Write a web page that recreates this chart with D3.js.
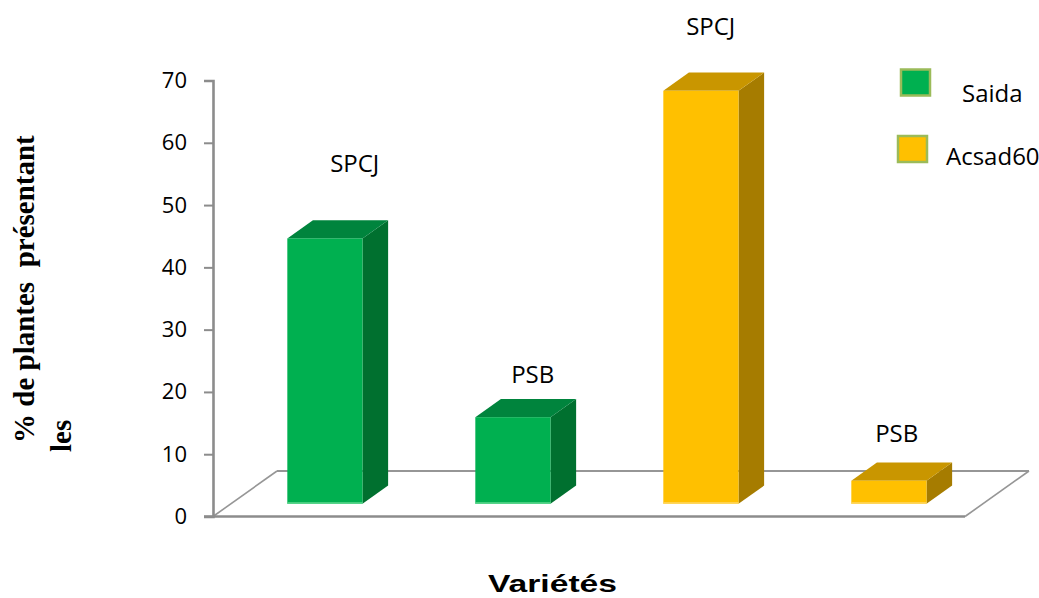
<!DOCTYPE html>
<html>
<head>
<meta charset="utf-8">
<script src="https://cdn.jsdelivr.net/npm/d3@7"></script>
<style>
  html, body { margin: 0; padding: 0; background: #ffffff; }
  svg { display: block; }
</style>
</head>
<body>
<svg id="chart" width="1039" height="598"></svg>
<script>
// Bars: one per variety / symptom pair
const varieties = ["Saida", "Saida", "Acsad60", "Acsad60"];
const symptoms = ["SPCJ", "PSB", "SPCJ", "PSB"];
const percentages = [42.6, 13.9, 66.3, 3.7];
const yTicks = [0, 10, 20, 30, 40, 50, 60, 70];
const seriesNames = ["Saida", "Acsad60"];

// Layout (pixels)
const floorLeft = 213, floorRight = 965;
const DX = 64, DY = -45.5;          // oblique depth vector of the floor
const t0 = 0.28, t1 = 0.68;         // bar front/back depth fractions
const labelNudgeX = [17, 7, -3, -5];
const labelLift = [66, 34, 56, 39];

const palette = {
  Saida:   { front: "#00b050", top: "#00843d", side: "#00702f", edge: "#5fd88f" },
  Acsad60: { front: "#ffc000", top: "#c99600", side: "#a67c00", edge: "#ffd966" }
};

const svg = d3.select("#chart");

const y = d3.scaleLinear().domain([0, 70]).range([516.5, 80.5]);
const x = d3.scaleBand().domain(d3.range(percentages.length))
  .range([floorLeft, floorRight]).paddingInner(0).paddingOuter(0);
const barW = x.bandwidth() * 0.4;

// project a front-plane point (px, value) back by depth fraction t
const P = (px, v, t) => [px + t * DX, y(v) + t * DY];
const poly = pts => pts.map(p => p.join(",")).join(" ");

// Floor
const floor = svg.append("g").attr("stroke", "#969696").attr("fill", "none");
floor.append("line")
  .attr("x1", P(floorLeft, 0, 1)[0]).attr("y1", P(floorLeft, 0, 1)[1])
  .attr("x2", P(floorRight, 0, 1)[0]).attr("y2", P(floorRight, 0, 1)[1])
  .attr("stroke-width", 2.2);
floor.append("line")
  .attr("x1", floorLeft).attr("y1", y(0))
  .attr("x2", P(floorLeft, 0, 1)[0]).attr("y2", P(floorLeft, 0, 1)[1])
  .attr("stroke-width", 1.6);
floor.append("line")
  .attr("x1", floorRight).attr("y1", y(0))
  .attr("x2", P(floorRight, 0, 1)[0]).attr("y2", P(floorRight, 0, 1)[1])
  .attr("stroke-width", 1.6);
floor.append("line")
  .attr("x1", floorLeft - 9).attr("y1", y(0))
  .attr("x2", floorRight).attr("y2", y(0))
  .attr("stroke", "#8c8c8c").attr("stroke-width", 2.6);

// Y axis
const axis = d3.axisLeft(y).tickValues(yTicks).tickSize(9).tickPadding(17);
const gAxis = svg.append("g").attr("transform", `translate(${floorLeft},0)`).call(axis);
gAxis.select(".domain").attr("stroke", "#8c8c8c").attr("stroke-width", 2.6);
gAxis.selectAll(".tick line").attr("stroke", "#8c8c8c").attr("stroke-width", 2);
gAxis.selectAll(".tick text")
  .attr("font-family", "'Open Sans', sans-serif")
  .attr("font-size", 22).attr("fill", "#000");

// Bars
const bars = svg.append("g");
percentages.forEach((v, i) => {
  const c = palette[varieties[i]];
  const xl = x(i) + (x.bandwidth() - barW) / 2;
  const xr = xl + barW;
  const g = bars.append("g");
  // side face
  g.append("polygon")
    .attr("points", poly([P(xr, 0, t0), P(xr, v, t0), P(xr, v, t1), P(xr, 0, t1)]))
    .attr("fill", c.side);
  // top face
  g.append("polygon")
    .attr("points", poly([P(xl, v, t0), P(xr, v, t0), P(xr, v, t1), P(xl, v, t1)]))
    .attr("fill", c.top);
  // front face
  const a = P(xl, v, t0), b = P(xr, 0, t0);
  g.append("rect")
    .attr("x", a[0]).attr("y", a[1])
    .attr("width", b[0] - a[0]).attr("height", b[1] - a[1])
    .attr("fill", c.front);
  g.append("line")
    .attr("x1", a[0]).attr("y1", b[1] - 0.8)
    .attr("x2", b[0]).attr("y2", b[1] - 0.8)
    .attr("stroke", c.edge).attr("stroke-width", 1.6);

  // symptom label above the bar
  const mid = P((xl + xr) / 2, v, (t0 + t1) / 2);
  svg.append("text")
    .attr("x", mid[0] + labelNudgeX[i])
    .attr("y", a[1] - labelLift[i])
    .attr("text-anchor", "middle")
    .attr("font-family", "'Open Sans', sans-serif")
    .attr("font-size", 24).attr("fill", "#000")
    .text(symptoms[i]);
});

// Legend
const legend = svg.append("g");
const legendRows = [
  { sx: 901, sy: 69.5, tx: 962, ty: 101.5 },
  { sx: 898, sy: 136, tx: 946, ty: 165 }
];
seriesNames.forEach((name, k) => {
  const r = legendRows[k];
  legend.append("rect")
    .attr("x", r.sx).attr("y", r.sy).attr("width", 29).attr("height", 26)
    .attr("fill", palette[name].front)
    .attr("stroke", "#9bbb59").attr("stroke-width", 2.5);
  legend.append("text")
    .attr("x", r.tx).attr("y", r.ty)
    .attr("font-family", "'Open Sans', sans-serif")
    .attr("font-size", 24).attr("fill", "#000")
    .text(name);
});

// Axis titles
const yTitle = svg.append("g")
  .attr("font-family", "'Liberation Serif', 'Times New Roman', serif")
  .attr("font-weight", "bold").attr("font-size", 29).attr("fill", "#000");
yTitle.append("text")
  .attr("transform", "translate(34,443) rotate(-90)")
  .attr("xml:space", "preserve")
  .style("white-space", "pre")
  .text("% de plantes  présentant");
yTitle.append("text")
  .attr("transform", "translate(71,452) rotate(-90)")
  .text("les");

svg.append("text")
  .attr("x", 552.5).attr("y", 592)
  .attr("text-anchor", "middle")
  .attr("font-family", "'Liberation Sans', Arial, sans-serif")
  .attr("font-weight", "bold").attr("font-size", 23)
  .attr("textLength", 129).attr("lengthAdjust", "spacingAndGlyphs")
  .attr("fill", "#000")
  .text("Variétés");
</script>
</body>
</html>
